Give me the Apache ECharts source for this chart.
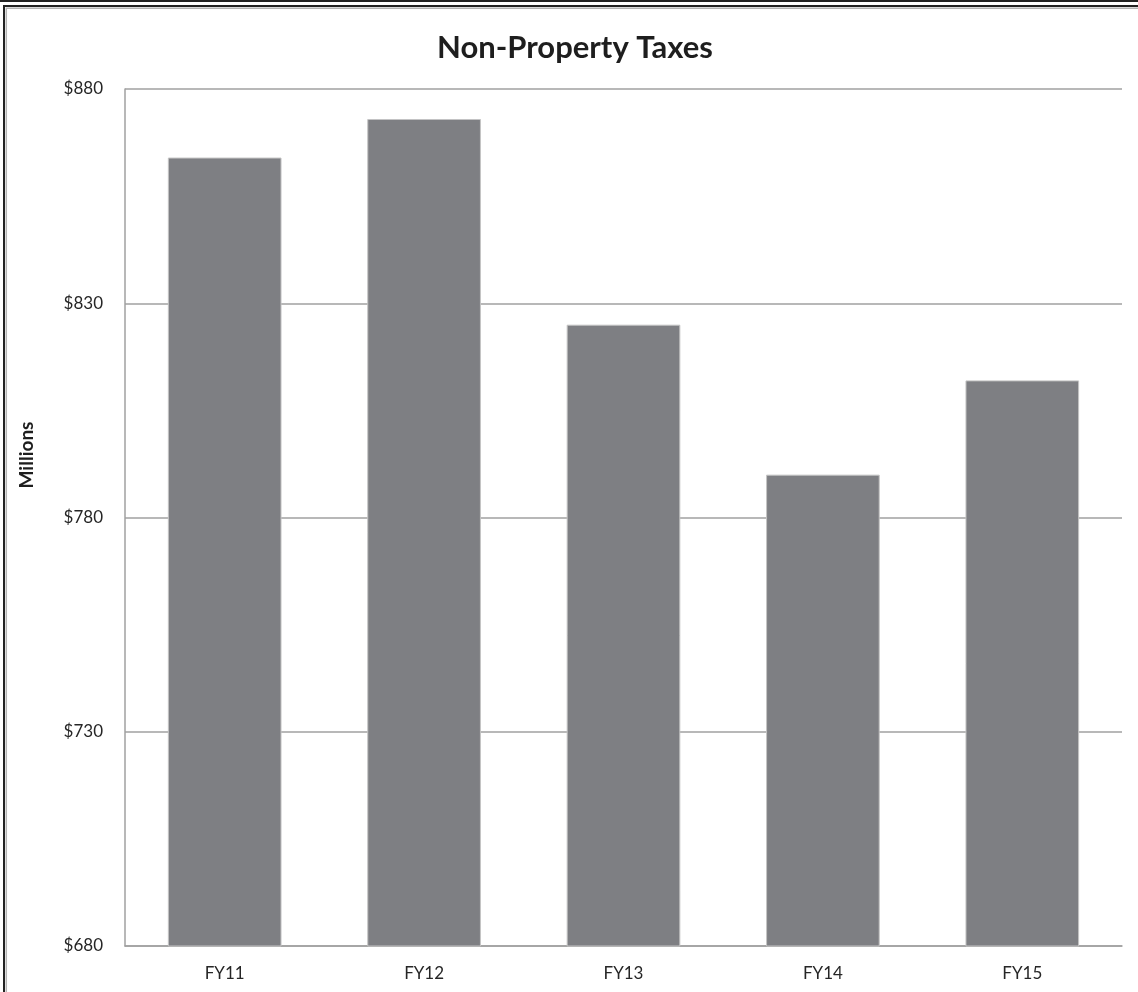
<!DOCTYPE html>
<html>
<head>
<meta charset="utf-8">
<title>Non-Property Taxes</title>
<script src="https://cdn.jsdelivr.net/npm/echarts@6/dist/echarts.min.js"></script>
<style>
  html, body { margin: 0; padding: 0; background: #fff; }
  #chart { width: 1138px; height: 992px; }
</style>
</head>
<body>
<div id="chart"></div>
<script>
// Fiscal years and non-property tax revenue (millions of dollars)
const categories = ['FY11', 'FY12', 'FY13', 'FY14', 'FY15'];
const revenue = [864, 873, 825, 790, 812];
const yTicks = { min: 680, max: 880, step: 50 };
const titleText = 'Non-Property Taxes';
const unitLabel = 'Millions';

const chart = echarts.init(document.getElementById('chart'));

chart.setOption({
  backgroundColor: '#ffffff',
  animation: false,
  title: {
    text: titleText,
    left: 432,
    top: 27,
    textStyle: { fontFamily: 'Lato', fontWeight: 'bold', fontSize: 31, color: '#1e1e1e' }
  },
  grid: { left: 125, right: 16, top: 89, bottom: 46 },
  xAxis: {
    type: 'category',
    data: categories,
    axisLine: { show: true, lineStyle: { color: '#a0a0a0', width: 1.5 } },
    axisTick: { show: false },
    axisLabel: { margin: 19, fontFamily: 'Lato', fontSize: 17, color: '#262626' }
  },
  yAxis: {
    type: 'value',
    min: yTicks.min,
    max: yTicks.max,
    interval: yTicks.step,
    axisLine: { show: true, lineStyle: { color: '#a0a0a0', width: 1.5 } },
    axisTick: { show: false },
    axisLabel: {
      margin: 22,
      fontFamily: 'Lato',
      fontSize: 17,
      color: '#262626',
      formatter: v => '$' + v
    },
    splitLine: { show: true, lineStyle: { color: '#a0a0a0', width: 1.5 } }
  },
  series: [{
    type: 'bar',
    data: revenue,
    barCategoryGap: '43%',
    itemStyle: { color: '#7e7f83', borderColor: '#c4c4c4', borderWidth: 1 }
  }],
  graphic: [
    // outer frame
    { type: 'rect', shape: { x: 0, y: 0, width: 1138, height: 2 }, style: { fill: '#222222' }, silent: true },
    { type: 'rect', shape: { x: 4, y: 6, width: 1200, height: 1100 }, style: { fill: null, stroke: '#222222', lineWidth: 2 }, silent: true },
    { type: 'rect', shape: { x: 6.3, y: 8.3, width: 1200, height: 1100 }, style: { fill: null, stroke: '#b4b4b4', lineWidth: 1.5 }, silent: true },
    // vertical unit label
    {
      type: 'text',
      x: 27,
      y: 455,
      rotation: Math.PI / 2,
      style: {
        text: unitLabel,
        fontFamily: 'Lato',
        fontWeight: 'bold',
        fontSize: 19,
        fill: '#1e1e1e',
        align: 'center',
        verticalAlign: 'middle'
      },
      silent: true
    }
  ]
});
</script>
</body>
</html>
